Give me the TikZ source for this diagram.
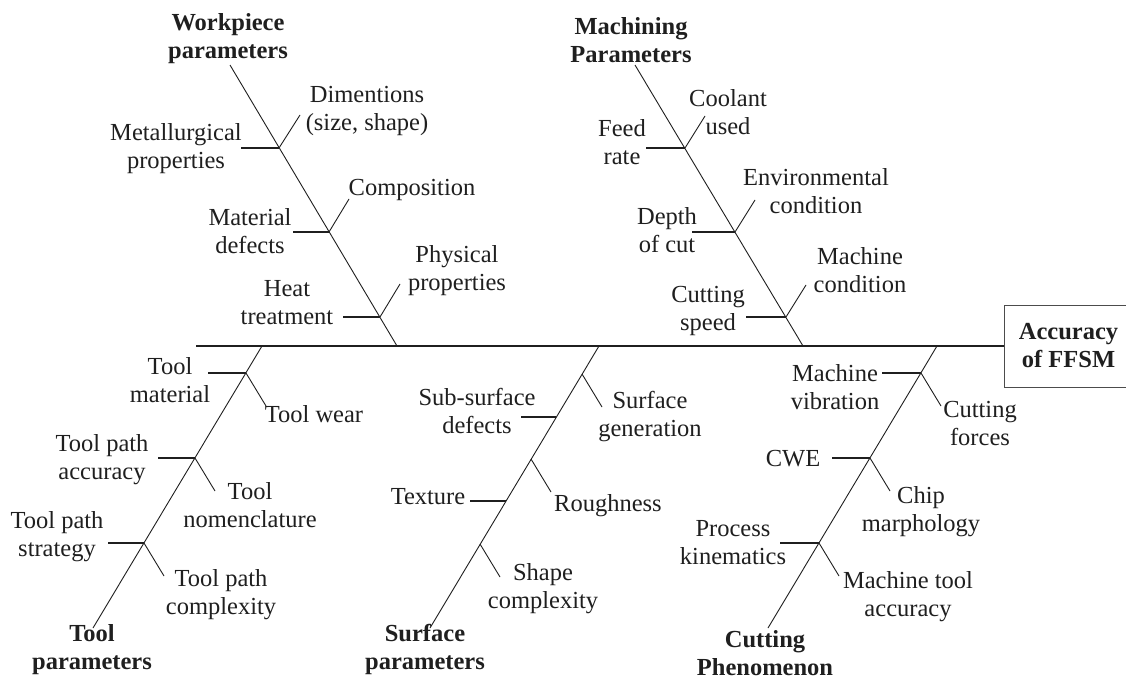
\documentclass[tikz,border=0pt]{standalone}
\usepackage{fontspec}
\setmainfont{Liberation Serif}
\definecolor{ink}{gray}{0.12}
\tikzset{
  lbl/.style={font=\fontsize{24.5}{28}\selectfont, align=center, inner sep=0pt, text=ink},
  head/.style={font=\fontsize{24.5}{28}\selectfont\bfseries, align=center, inner sep=0pt, text=ink},
  bone/.style={draw=ink, line width=0.9pt},
  rib/.style={draw=ink, line width=1.4pt},
  twig/.style={draw=ink, line width=0.9pt},
  spine/.style={draw=ink, line width=1.4pt}
}
\begin{document}
\begin{tikzpicture}[x=1pt, y=-1pt]
\useasboundingbox (0,0) rectangle (1126,682);
\clip (0,0) rectangle (1126,682);
\fill[white] (0,0) rectangle (1126,682);

% effect box and spine
\node[head, draw=black!70, line width=1pt, minimum width=128pt, minimum height=82pt, anchor=west] (acc) at (1004,346) {Accuracy\\of FFSM};
\coordinate (sp0) at (196,346);
\draw[spine] (sp0) -- (acc.west);

% ---------- Workpiece parameters ----------
\node[head] (wp) at (228,39) {Workpiece\\parameters};
\coordinate (wT) at (230,65);
\coordinate (wB) at (397,346);
\draw[bone] (wT) -- (wB);
\coordinate (w1) at (279,148); \coordinate (w1L) at (241,148); \coordinate (w1R) at (300,115);
\coordinate (w2) at (329,232); \coordinate (w2L) at (293,232); \coordinate (w2R) at (349,199);
\coordinate (w3) at (380,317); \coordinate (w3L) at (343,317); \coordinate (w3R) at (400,284);
\draw[rib] (w1) -- (w1L); \draw[twig] (w1) -- (w1R);
\draw[rib] (w2) -- (w2L); \draw[twig] (w2) -- (w2R);
\draw[rib] (w3) -- (w3L); \draw[twig] (w3) -- (w3R);
\node[lbl] (metal) at (176,149) {Metallurgical\\properties};
\node[lbl] (dim) at (367,111) {Dimentions\\(size, shape)};
\node[lbl] (matdef) at (250,231) {Material\\defects};
\node[lbl] (comp) at (412,190) {Composition};
\node[lbl] (heat) at (287,303) {Heat\\treatment};
\node[lbl] (phys) at (457,271) {Physical\\properties};

% ---------- Machining Parameters ----------
\node[head] (mp) at (631,40) {Machining\\Parameters};
\coordinate (mT) at (635,65);
\coordinate (mB) at (803,346);
\draw[bone] (mT) -- (mB);
\coordinate (m1) at (685,148); \coordinate (m1L) at (646,148); \coordinate (m1R) at (705,116);
\coordinate (m2) at (735,232); \coordinate (m2L) at (692,232); \coordinate (m2R) at (755,200);
\coordinate (m3) at (786,317); \coordinate (m3L) at (746,317); \coordinate (m3R) at (806,285);
\draw[rib] (m1) -- (m1L); \draw[twig] (m1) -- (m1R);
\draw[rib] (m2) -- (m2L); \draw[twig] (m2) -- (m2R);
\draw[rib] (m3) -- (m3L); \draw[twig] (m3) -- (m3R);
\node[lbl] (feed) at (622,142) {Feed\\rate};
\node[lbl] (cool) at (728,112) {Coolant\\used};
\node[lbl] (depth) at (667,230) {Depth\\of cut};
\node[lbl] (env) at (816,191) {Environmental\\condition};
\node[lbl] (cspeed) at (708,311) {Cutting\\speed};
\node[lbl] (mcond) at (860,270) {Machine\\condition};

% ---------- Tool parameters ----------
\node[head] (tp) at (92,650) {Tool\\parameters};
\coordinate (tT) at (262,346);
\coordinate (tB) at (93,628);
\draw[bone] (tT) -- (tB);
\coordinate (t1) at (246,373); \coordinate (t1L) at (208,373); \coordinate (t1R) at (266,406);
\coordinate (t2) at (195,458); \coordinate (t2L) at (158,458); \coordinate (t2R) at (215,491);
\coordinate (t3) at (144,543); \coordinate (t3L) at (108,543); \coordinate (t3R) at (164,576);
\draw[rib] (t1) -- (t1L); \draw[twig] (t1) -- (t1R);
\draw[rib] (t2) -- (t2L); \draw[twig] (t2) -- (t2R);
\draw[rib] (t3) -- (t3L); \draw[twig] (t3) -- (t3R);
\node[lbl] (tmat) at (170,380) {Tool\\material};
\node[lbl] (twear) at (314,414) {Tool wear};
\node[lbl] (tpa) at (102,460) {Tool path\\accuracy};
\node[lbl] (tnom) at (250,505) {Tool\\nomenclature};
\node[lbl] (tps) at (57,537) {Tool path\\strategy};
\node[lbl] (tpc) at (221,595) {Tool path\\complexity};

% ---------- Surface parameters ----------
\node[head] (surfp) at (425,649) {Surface\\parameters};
\coordinate (sT) at (599,346);
\coordinate (sB) at (430,628);
\draw[bone] (sT) -- (sB);
\coordinate (s1) at (582,374); \coordinate (s1R) at (602,407);
\coordinate (s2) at (556,417); \coordinate (s2L) at (521,417);
\coordinate (s3) at (531,459); \coordinate (s3R) at (551,492);
\coordinate (s4) at (506,501); \coordinate (s4L) at (470,501);
\coordinate (s5) at (480,544); \coordinate (s5R) at (500,577);
\draw[twig] (s1) -- (s1R);
\draw[rib] (s2) -- (s2L);
\draw[twig] (s3) -- (s3R);
\draw[rib] (s4) -- (s4L);
\draw[twig] (s5) -- (s5R);
\node[lbl] (sgen) at (650,417) {Surface\\generation};
\node[lbl] (ssd) at (477,411) {Sub-surface\\defects};
\node[lbl] (rough) at (608,506) {Roughness};
\node[lbl] (tex) at (428,497) {Texture};
\node[lbl] (shape) at (543,589) {Shape\\complexity};

% ---------- Cutting Phenomenon ----------
\node[head] (cphen) at (765,653) {Cutting\\Phenomenon};
\coordinate (cT) at (937,346);
\coordinate (cB) at (768,628);
\draw[bone] (cT) -- (cB);
\coordinate (c1) at (921,373); \coordinate (c1L) at (882,373); \coordinate (c1R) at (941,406);
\coordinate (c2) at (870,458); \coordinate (c2L) at (832,458); \coordinate (c2R) at (890,491);
\coordinate (c3) at (819,543); \coordinate (c3L) at (780,543); \coordinate (c3R) at (839,576);
\draw[rib] (c1) -- (c1L); \draw[twig] (c1) -- (c1R);
\draw[rib] (c2) -- (c2L); \draw[twig] (c2) -- (c2R);
\draw[rib] (c3) -- (c3L); \draw[twig] (c3) -- (c3R);
\node[lbl] (mvib) at (835,387) {Machine\\vibration};
\node[lbl] (cforce) at (980,424) {Cutting\\forces};
\node[lbl] (cwe) at (793,459) {CWE};
\node[lbl] (chip) at (921,512) {Chip\\marphology};
\node[lbl] (pkin) at (733,543) {Process\\kinematics};
\node[lbl] (mta) at (908,597) {Machine tool\\accuracy};
\end{tikzpicture}
\end{document}
